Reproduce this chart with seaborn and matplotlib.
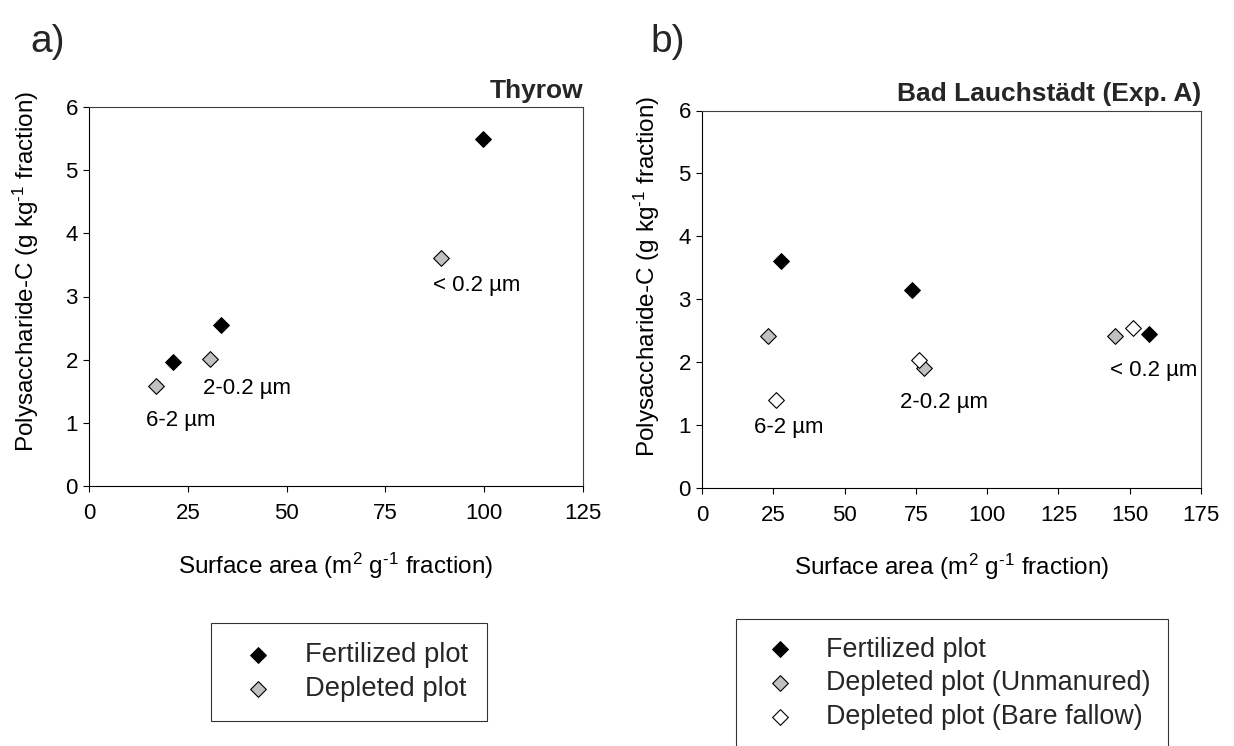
import numpy as np
import pandas as pd
import matplotlib
matplotlib.use("Agg")
import matplotlib.pyplot as plt
import seaborn as sns

# ---- data -------------------------------------------------------------
fractions = ["6-2 µm", "2-0.2 µm", "< 0.2 µm"]

# Thyrow
thyrow_sa_fert = [21.3, 33.4, 99.7]
thyrow_ps_fert = [1.96, 2.55, 5.50]
thyrow_sa_depl = [17.0, 30.5, 89.1]
thyrow_ps_depl = [1.58, 2.01, 3.61]

# Bad Lauchstädt (Exp. A)
bl_sa_fert = [27.7, 73.5, 156.9]
bl_ps_fert = [3.61, 3.15, 2.45]
bl_sa_unman = [23.0, 78.0, 144.9]
bl_ps_unman = [2.41, 1.91, 2.41]
bl_sa_bare = [26.0, 76.1, 151.1]
bl_ps_bare = [1.40, 2.04, 2.54]

# fraction label anchors (data coordinates)
thyrow_label_xy = [(23.3, 1.04), (40.1, 1.55), (98.0, 3.18)]
bl_label_xy = [(30.4, 0.96), (85.0, 1.36), (158.4, 1.86)]

# ---- style ------------------------------------------------------------
sns.set_theme(style="white")
plt.rcParams["font.family"] = ["Liberation Sans", "DejaVu Sans"]
plt.rcParams["mathtext.fontset"] = "custom"
plt.rcParams["mathtext.rm"] = "Liberation Sans"
plt.rcParams["mathtext.it"] = "Liberation Sans:italic"
plt.rcParams["mathtext.bf"] = "Liberation Sans:bold"
plt.rcParams["mathtext.default"] = "regular"

W, H = 1234, 746
fig = plt.figure(figsize=(W / 100, H / 100), dpi=100)
fig.patch.set_facecolor("white")

ax_a = fig.add_axes([89 / W, 1 - 486 / H, 494 / W, 379 / H])
ax_b = fig.add_axes([702 / W, 1 - 488 / H, 499 / W, 377.5 / H])

EDGE = dict(edgecolor="black", linewidth=0.8, marker="D", s=64, zorder=3)
FILL_FERT = "black"
FILL_UNMAN = "#c0c0c0"
FILL_BARE = "white"

# panel a
sns.scatterplot(x=thyrow_sa_fert, y=thyrow_ps_fert, color=FILL_FERT,
                label="Fertilized plot", ax=ax_a, legend=False, **EDGE)
sns.scatterplot(x=thyrow_sa_depl, y=thyrow_ps_depl, color=FILL_UNMAN,
                label="Depleted plot", ax=ax_a, legend=False, **EDGE)

# panel b
sns.scatterplot(x=bl_sa_fert, y=bl_ps_fert, color=FILL_FERT,
                label="Fertilized plot", ax=ax_b, legend=False, **EDGE)
sns.scatterplot(x=bl_sa_unman, y=bl_ps_unman, color=FILL_UNMAN,
                label="Depleted plot (Unmanured)", ax=ax_b, legend=False, **EDGE)
sns.scatterplot(x=bl_sa_bare, y=bl_ps_bare, color=FILL_BARE,
                label="Depleted plot (Bare fallow)", ax=ax_b, legend=False, **EDGE)

# superscript exponents written with a plain hyphen (U+2010)
xlabel = "Surface area (m$^2$ g$^{\u20101}$ fraction)"
ylabel = "Polysaccharide-C (g kg$^{\u20101}$ fraction)"

for ax, xmax, title, label_xy, ylab_x, ylab_y, xlab_x in (
    (ax_a, 125, "Thyrow", thyrow_label_xy, -0.097, 0.567, 0.50),
    (ax_b, 175, "Bad Lauchstädt (Exp. A)", bl_label_xy, -0.080, 0.562, 0.50),
):
    ax.set_xlim(0, xmax)
    ax.set_ylim(0, 6)
    ax.set_xticks(np.arange(0, xmax + 1, 25))
    ax.set_yticks(np.arange(0, 7, 1))
    ax.tick_params(axis="both", direction="out", length=4, width=0.8,
                   color="black", labelsize=16, labelcolor="black",
                   bottom=True, left=True, top=False, right=False)
    ax.tick_params(axis="x", pad=8)
    ax.tick_params(axis="y", pad=4)
    for side in ("left", "bottom"):
        ax.spines[side].set_color("black")
        ax.spines[side].set_linewidth(0.8)
    for side in ("top", "right"):
        ax.spines[side].set_color("#404040")
        ax.spines[side].set_linewidth(0.8)
    ax.set_facecolor("white")
    ax.grid(False)
    ax.set_xlabel(xlabel, fontsize=17.5, color="black")
    ax.set_ylabel(ylabel, fontsize=17.5, color="black")
    ax.xaxis.set_label_coords(xlab_x, -0.17)
    ax.yaxis.set_label_coords(ylab_x, ylab_y)
    ax.set_title(title, loc="right", fontsize=19, fontweight="bold", pad=6.5)
    for name, (tx, ty) in zip(fractions, label_xy):
        ax.text(tx, ty, name, ha="center", va="center", fontsize=16,
                color="black")

fig.text(48 / W, 1 - 42 / H, "a)", fontsize=28, ha="center", va="center")
fig.text(668 / W, 1 - 42 / H, "b)", fontsize=28, ha="center", va="center")

# legends
h_a, l_a = ax_a.get_legend_handles_labels()
leg_a = fig.legend(h_a, l_a, loc="upper left",
                   bbox_to_anchor=(210.7 / W, 1 - 623.3 / H),
                   fontsize=19.7, frameon=True, fancybox=False, shadow=False,
                   borderpad=0.7, handlelength=2.05, handletextpad=0.7,
                   labelspacing=0.27, borderaxespad=0)
leg_a.get_frame().set_edgecolor("black")
leg_a.get_frame().set_linewidth(0.8)

h_b, l_b = ax_b.get_legend_handles_labels()
leg_b = fig.legend(h_b, l_b, loc="upper left",
                   bbox_to_anchor=(736 / W, 1 - 619 / H),
                   fontsize=19.4, frameon=True, fancybox=False, shadow=False,
                   borderpad=0.65, handlelength=2.0, handletextpad=0.68,
                   labelspacing=0.29, borderaxespad=0)
leg_b.get_frame().set_edgecolor("black")
leg_b.get_frame().set_linewidth(0.8)

fig.savefig("out.png", dpi=100, facecolor="white")
